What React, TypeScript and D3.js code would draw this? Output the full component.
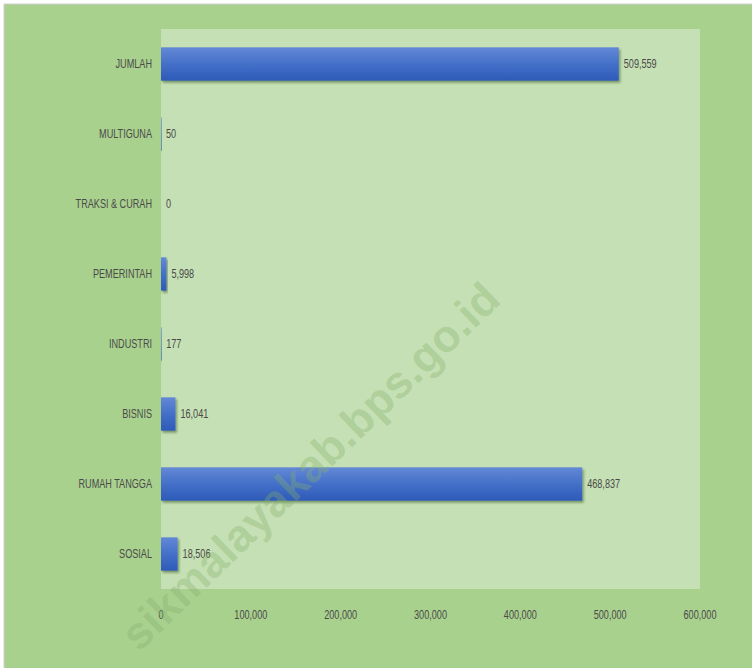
import React from "react";
import * as d3 from "d3";

const categories = ["JUMLAH", "MULTIGUNA", "TRAKSI & CURAH", "PEMERINTAH", "INDUSTRI", "BISNIS", "RUMAH TANGGA", "SOSIAL"];
const values = [509559, 50, 0, 5998, 177, 16041, 468837, 18506];
const xTicks = [0, 100000, 200000, 300000, 400000, 500000, 600000];
const watermark = "sikmalayakab.bps.go.id";

const W = 752;
const H = 668;
const plot = { left: 161, right: 700, top: 29, bottom: 589 };
const FONT = "'Liberation Sans', Arial, sans-serif";
const SX = 0.76;

function Label({ x, y, anchor, children }: { x: number; y: number; anchor: "start" | "middle" | "end"; children: React.ReactNode }) {
  return (
    <g transform={`translate(${x},${y}) scale(${SX},1)`}>
      <text x={0} y={0} dy="0.35em" textAnchor={anchor} fontFamily={FONT} fontSize={12} fill="#4a4a4a">
        {children}
      </text>
    </g>
  );
}

export default function App() {
  const x = d3.scaleLinear().domain([0, 600000]).range([plot.left, plot.right]);
  const y = d3.scaleBand<string>().domain(categories).range([plot.top, plot.bottom]).paddingInner(110 / 210).paddingOuter(55 / 210);
  const fmt = d3.format(",");
  const bw = y.bandwidth();

  return (
    <svg width={W} height={H} style={{ position: "absolute", left: 0, top: 0, display: "block" }}>
      <defs>
        <linearGradient id="barGrad" x1="0" y1="0" x2="0" y2="1">
          <stop offset="0%" stopColor="#6388d6" />
          <stop offset="50%" stopColor="#4470c8" />
          <stop offset="100%" stopColor="#2d5ab8" />
        </linearGradient>
        <filter id="shadow" x="-10%" y="-30%" width="130%" height="180%">
          <feDropShadow dx="1.5" dy="2" stdDeviation="1.2" floodColor="#1f3a10" floodOpacity="0.45" />
        </filter>
      </defs>
      <rect x={0} y={0} width={W} height={H} fill="#ffffff" />
      <rect x={4} y={4} width={W - 4} height={H - 4} fill="#a9d18e" />
      <line x1={4} y1={4} x2={W} y2={4} stroke="#cfcfcf" strokeWidth={1} />
      <line x1={4} y1={4} x2={4} y2={H} stroke="#cfcfcf" strokeWidth={1} />
      <rect x={plot.left} y={plot.top} width={plot.right - plot.left} height={plot.bottom - plot.top} fill="#c5e0b4" />

      {categories.map((c, i) => {
        const yy = y(c) as number;
        const x0 = x(0);
        const x1 = x(values[i]);
        return (
          <g key={c}>
            {values[i] > 0 && (
              <rect x={x0} y={yy} width={Math.max(x1 - x0, 0.6)} height={bw} fill="url(#barGrad)" filter="url(#shadow)" />
            )}
            <Label x={plot.left - 9} y={yy + bw / 2} anchor="end">{c}</Label>
            <Label x={Math.max(x1, x0) + 5} y={yy + bw / 2} anchor="start">{fmt(values[i])}</Label>
          </g>
        );
      })}

      {xTicks.map((t) => (
        <Label key={t} x={x(t)} y={615} anchor="middle">{fmt(t)}</Label>
      ))}

      <text
        x={310}
        y={466}
        transform="rotate(-44 310 466)"
        textAnchor="middle"
        dy="0.35em"
        fontFamily="'Liberation Sans', Arial, sans-serif"
        fontWeight="bold"
        fontSize={45}
        fill="#86b06e"
        fillOpacity={0.36}
      >
        {watermark}
      </text>
    </svg>
  );
}
